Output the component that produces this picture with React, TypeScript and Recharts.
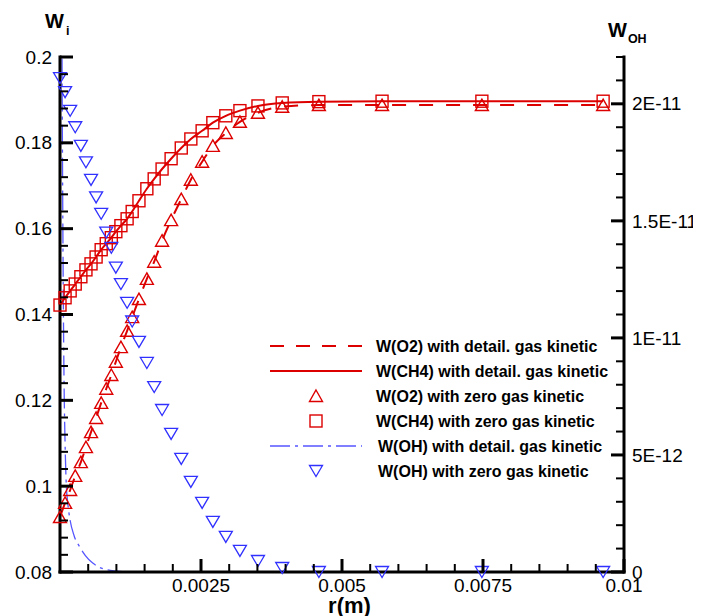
import React from "react";
import { ComposedChart, Line, Scatter, XAxis, YAxis, Customized } from "recharts";

// radial positions of the solution points (m)
const R_POINTS = [
  0, 0.00009, 0.00018, 0.00027, 0.00037, 0.00046, 0.00055, 0.00064, 0.00073,
  0.00082, 0.00091, 0.00099, 0.00108, 0.00119, 0.00128, 0.0014, 0.00154,
  0.00167, 0.00181, 0.00197, 0.00215, 0.00232, 0.00252, 0.00271, 0.00294,
  0.00319, 0.00351, 0.00394, 0.00459, 0.00571, 0.00748, 0.00963,
];

// mass fractions, left axis
const W_CH4 = [
  0.1422, 0.1439, 0.1455, 0.1471, 0.1488, 0.1504, 0.1518, 0.1534, 0.1551,
  0.1565, 0.1579, 0.1593, 0.1607, 0.1623, 0.164, 0.1665, 0.1693, 0.1716,
  0.1739, 0.1763, 0.1788, 0.1809, 0.1828, 0.1847, 0.1863, 0.1875, 0.1886,
  0.1893, 0.1896, 0.1897, 0.1897, 0.1897,
];
const W_O2 = [
  0.0928, 0.0961, 0.0991, 0.1024, 0.1056, 0.1091, 0.1126, 0.1159, 0.1194,
  0.1227, 0.1259, 0.129, 0.1324, 0.1362, 0.1394, 0.1436, 0.1483, 0.1523,
  0.1572, 0.162, 0.1669, 0.1714, 0.1756, 0.1793, 0.1823, 0.1849, 0.187,
  0.1884, 0.1888, 0.1888, 0.1888, 0.1888,
];

// OH, right axis
const W_OH_ZERO = [
  21.1e-12, 20.5e-12, 19.7e-12, 19.0e-12, 18.2e-12, 17.5e-12, 16.75e-12,
  16.0e-12, 15.3e-12, 14.5e-12, 13.85e-12, 13.0e-12, 12.3e-12, 11.5e-12,
  10.7e-12, 9.83e-12, 8.93e-12, 7.9e-12, 6.92e-12, 5.9e-12, 4.83e-12,
  3.85e-12, 2.95e-12, 2.14e-12, 1.5e-12, 0.9e-12, 0.47e-12, 0.17e-12, 0, 0, 0,
  0,
];
const R_OH_DETAIL = [
  0, 0.00003, 0.00005, 0.00007, 0.00009, 0.00011, 0.00014, 0.00018, 0.00025,
  0.00035, 0.00045, 0.00058, 0.0007, 0.00089, 0.0011, 0.0013,
];
const W_OH_DETAIL = [
  60e-12, 26e-12, 15e-12, 8.5e-12, 5.5e-12, 3.8e-12, 2.9e-12, 2.2e-12,
  1.55e-12, 1.07e-12, 0.7e-12, 0.38e-12, 0.2e-12, 0.07e-12, 0.02e-12, 0,
];

const X_MAJOR = [0.0025, 0.005, 0.0075, 0.01];
const X_LABELS = ["0.0025", "0.005", "0.0075", "0.01"];
const YL_MAJOR = [0.08, 0.1, 0.12, 0.14, 0.16, 0.18, 0.2];
const YL_LABELS = ["0.08", "0.1", "0.12", "0.14", "0.16", "0.18", "0.2"];
const YR_MAJOR = [0, 5e-12, 1e-11, 1.5e-11, 2e-11];
const YR_LABELS = ["0", "5E-12", "1E-11", "1.5E-11", "2E-11"];

const RED = "#DD0000";
const BLUE = "#3030FF";
const BLUE_LINE = "#5555FF";
const FONT = '"Liberation Sans", Arial, Helvetica, sans-serif';
const TICK_GAP = 8;
const TICK_FONT = 19;

// minor tick positions
const steps = (from: number, to: number, step: number) => {
  const out: number[] = [];
  const n = Math.round((to - from) / step);
  for (let i = 0; i <= n; i++) out.push(parseFloat((from + i * step).toPrecision(10)));
  return out;
};
const X_TICKS = steps(0, 0.01, 0.0005);
const YL_TICKS = steps(0.08, 0.2, 0.004);
const YR_TICKS = steps(0, 2.2e-11, 1e-12);

const zeroData = R_POINTS.map((r, i) => ({
  r,
  o2: W_O2[i],
  ch4: W_CH4[i],
  oh: W_OH_ZERO[i],
}));
const ohDetail = R_OH_DETAIL.map((r, i) => ({ r, oh: W_OH_DETAIL[i] }));

const majorIndex = (majors: number[], v: number) =>
  majors.findIndex((m) => Math.abs(m - v) <= Math.abs(m) * 1e-6 + 1e-20);

// inward ticks, label outside
function AxisTick(props: any) {
  const { x, y, payload, side, majors, labels } = props;
  const idx = majorIndex(majors, payload.value);
  const major = idx >= 0;
  const len = major ? 13 : 8;
  const sw = major ? 3 : 2;
  if (side === "left") {
    const ax = x + TICK_GAP;
    return (
      <g>
        <line x1={ax} y1={y} x2={ax + len} y2={y} stroke="#000" strokeWidth={sw} />
        {major && (
          <text x={x} y={y} dy="0.35em" textAnchor="end" fontSize={TICK_FONT} fill="#000" fontFamily={FONT}>
            {labels[idx]}
          </text>
        )}
      </g>
    );
  }
  if (side === "right") {
    const ax = x - TICK_GAP;
    return (
      <g>
        <line x1={ax} y1={y} x2={ax - len} y2={y} stroke="#000" strokeWidth={sw} />
        {major && (
          <text x={x} y={y} dy="0.35em" textAnchor="start" fontSize={TICK_FONT} fill="#000" fontFamily={FONT}>
            {labels[idx]}
          </text>
        )}
      </g>
    );
  }
  const ay = y - 7;
  return (
    <g>
      <line x1={x} y1={ay} x2={x} y2={ay - len} stroke="#000" strokeWidth={sw} />
      {major && (
        <text x={x} y={y} dy="0.71em" textAnchor="middle" fontSize={TICK_FONT} fill="#000" fontFamily={FONT}>
          {labels[idx]}
        </text>
      )}
    </g>
  );
}

const Square = ({ cx, cy }: any) => (
  <rect x={cx - 6} y={cy - 6} width={12} height={12} fill="none" stroke={RED} strokeWidth={1.4} />
);
const UpTri = ({ cx, cy, color = RED }: any) => (
  <path
    d={`M${cx},${cy - 6} L${cx + 6.5},${cy + 5.5} L${cx - 6.5},${cy + 5.5} Z`}
    fill="none"
    stroke={color}
    strokeWidth={1.4}
  />
);
const DownTri = ({ cx, cy, color = BLUE }: any) => (
  <path
    d={`M${cx - 6.5},${cy - 5.5} L${cx + 6.5},${cy - 5.5} L${cx},${cy + 5.5} Z`}
    fill="none"
    stroke={color}
    strokeWidth={1.3}
  />
);

const LEGEND = [
  { label: "W(O2) with detail. gas kinetic", kind: "dash" },
  { label: "W(CH4) with detail. gas kinetic", kind: "solid" },
  { label: "W(O2) with zero gas kinetic", kind: "up" },
  { label: "W(CH4) with zero gas kinetic", kind: "square" },
  { label: "W(OH) with detail. gas kinetic", kind: "dashdot" },
  { label: "W(OH) with zero gas kinetic", kind: "down" },
];

function LegendBox() {
  const x0 = 262;
  const x1 = 354;
  const xm = 308;
  const xt = 368;
  const y0 = 338;
  return (
    <g>
      {LEGEND.map((e, i) => {
        const y = y0 + i * 25;
        let sample: any = null;
        if (e.kind === "dash")
          sample = <line x1={x0} y1={y} x2={x1} y2={y} stroke={RED} strokeWidth={2} strokeDasharray="14 12" />;
        if (e.kind === "solid")
          sample = <line x1={x0} y1={y} x2={x1} y2={y} stroke={RED} strokeWidth={2} />;
        if (e.kind === "dashdot")
          sample = <line x1={x0} y1={y} x2={x1} y2={y} stroke={BLUE_LINE} strokeWidth={1.4} strokeDasharray="20 5 3 5" />;
        if (e.kind === "up") sample = <UpTri cx={xm} cy={y} />;
        if (e.kind === "square") sample = <Square cx={xm} cy={y} />;
        if (e.kind === "down") sample = <DownTri cx={xm} cy={y} />;
        return (
          <g key={e.label}>
            {sample}
            <text
              x={e.kind === "dashdot" || e.kind === "down" ? xt + 2 : xt}
              y={y}
              dy="0.35em"
              fontSize={16}
              fontWeight="bold"
              fill="#000"
              fontFamily={FONT}
            >
              {e.label}
            </text>
          </g>
        );
      })}
    </g>
  );
}

const leftTitle = (p: any) => {
  const vb = p.viewBox;
  return (
    <text x={vb.x + vb.width - 15} y={vb.y - 29} fontSize={20} fontWeight="bold" fontFamily={FONT} fill="#000">
      W
      <tspan dx={2} dy={7} fontSize={12.5}>
        i
      </tspan>
    </text>
  );
};
const rightTitle = (p: any) => {
  const vb = p.viewBox;
  return (
    <text x={vb.x - 16} y={vb.y - 20} fontSize={20} fontWeight="bold" fontFamily={FONT} fill="#000">
      W
      <tspan dx={1} dy={6} fontSize={12.5}>
        OH
      </tspan>
    </text>
  );
};
const bottomTitle = (p: any) => {
  const vb = p.viewBox;
  return (
    <text
      x={vb.x + vb.width / 2 + 7.5}
      y={vb.y + 41}
      textAnchor="middle"
      fontSize={22}
      fontWeight="bold"
      fontFamily={FONT}
      fill="#000"
    >
      r(m)
    </text>
  );
};

const axisLine = { stroke: "#000", strokeWidth: 3, strokeLinecap: "square" as const };

export default function App() {
  return (
    <div style={{ width: 693, height: 608, background: "#fff" }}>
      <ComposedChart
        width={693}
        height={608}
        margin={{ top: 49, right: 0, bottom: 0, left: 0 }}
        style={{ fontFamily: FONT }}
      >
        <XAxis
          dataKey="r"
          type="number"
          domain={[0, 0.01]}
          ticks={X_TICKS}
          interval={0}
          height={44}
          tickSize={0}
          tickMargin={7}
          axisLine={axisLine}
          tickLine={false}
          tick={<AxisTick side="bottom" majors={X_MAJOR} labels={X_LABELS} />}
          label={{ content: bottomTitle }}
        />
        <YAxis
          yAxisId="left"
          type="number"
          domain={[0.08, 0.2]}
          ticks={YL_TICKS}
          interval={0}
          width={52}
          tickSize={0}
          tickMargin={TICK_GAP}
          axisLine={axisLine}
          tickLine={false}
          tick={<AxisTick side="left" majors={YL_MAJOR} labels={YL_LABELS} />}
          label={{ content: leftTitle }}
        />
        <YAxis
          yAxisId="right"
          orientation="right"
          type="number"
          domain={[0, 2.2e-11]}
          allowDataOverflow
          ticks={YR_TICKS}
          interval={0}
          width={77}
          tickSize={0}
          tickMargin={TICK_GAP}
          axisLine={axisLine}
          tickLine={false}
          tick={<AxisTick side="right" majors={YR_MAJOR} labels={YR_LABELS} />}
          label={{ content: rightTitle }}
        />
        {/* same scale as "right", unclipped so the zero markers can sit on the axis */}
        <YAxis
          yAxisId="zOhMarks"
          orientation="right"
          type="number"
          domain={[0, 2.2e-11]}
          width={0}
          hide
        />

        <Line
          data={ohDetail}
          dataKey="oh"
          yAxisId="right"
          type="monotone"
          stroke={BLUE_LINE}
          strokeWidth={1.3}
          strokeDasharray="20 5 3 5"
          dot={false}
          activeDot={false}
          isAnimationActive={false}
        />
        <Line
          data={zeroData}
          dataKey="o2"
          yAxisId="left"
          type="monotone"
          stroke={RED}
          strokeWidth={2}
          strokeDasharray="14 13"
          dot={false}
          activeDot={false}
          isAnimationActive={false}
        />
        <Line
          data={zeroData}
          dataKey="ch4"
          yAxisId="left"
          type="monotone"
          stroke={RED}
          strokeWidth={2}
          dot={false}
          activeDot={false}
          isAnimationActive={false}
        />
        <Scatter
          data={zeroData}
          dataKey="o2"
          yAxisId="left"
          shape={(p: any) => <UpTri cx={p.cx} cy={p.cy} />}
          isAnimationActive={false}
        />
        <Scatter
          data={zeroData}
          dataKey="ch4"
          yAxisId="left"
          shape={(p: any) => <Square cx={p.cx} cy={p.cy} />}
          isAnimationActive={false}
        />
        <Scatter
          data={zeroData}
          dataKey="oh"
          yAxisId="zOhMarks"
          shape={(p: any) => <DownTri cx={p.cx} cy={p.cy} />}
          isAnimationActive={false}
        />
        <Customized component={LegendBox} />
      </ComposedChart>
    </div>
  );
}
